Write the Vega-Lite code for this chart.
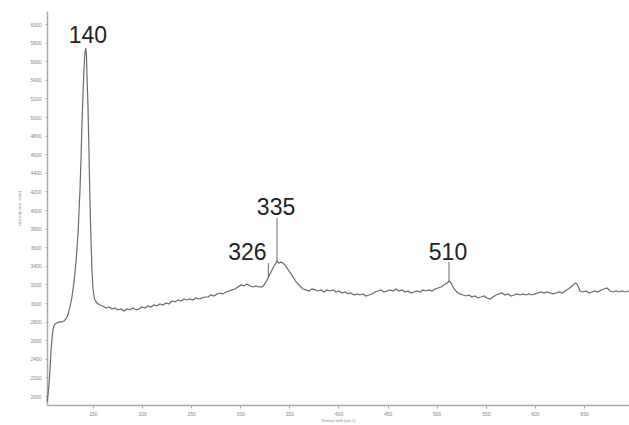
{
  "$schema": "https://vega.github.io/schema/vega-lite/v6.json",
  "width": 582,
  "height": 394,
  "autosize": {"type": "none"},
  "padding": {"left": 47, "top": 11, "right": 0, "bottom": 20},
  "background": "white",
  "config": {
    "view": {"stroke": null},
    "font": "Liberation Sans",
    "axis": {"labelOverlap": false, "labelFontSize": 5, "labelColor": "#888", "tickColor": "#aaa", "domainColor": "#aaa", "domainWidth": 1.5, "grid": false, "titleFontSize": 4, "titleColor": "#888", "titleFontWeight": "normal"},
    "axisX": {"tickSize": 3, "labelPadding": 3, "titlePadding": 2},
    "axisY": {"tickSize": 2, "labelPadding": 4, "titlePadding": 8}
  },
  "datasets": {
    "spectrum": [
      {"shift":103.2,"intensity":1937},{"shift":104.2,"intensity":2012},{"shift":105.2,"intensity":2119},{"shift":106.2,"intensity":2281},{"shift":107.2,"intensity":2474},{"shift":108.3,"intensity":2625},{"shift":109.3,"intensity":2710},{"shift":110.3,"intensity":2754},{"shift":111.3,"intensity":2775},{"shift":113.3,"intensity":2786},{"shift":115.4,"intensity":2797},{"shift":118.4,"intensity":2797},{"shift":120.5,"intensity":2807},{"shift":122.5,"intensity":2829},{"shift":124.5,"intensity":2872},{"shift":126.6,"intensity":2958},{"shift":128.6,"intensity":3065},{"shift":130.7,"intensity":3227},{"shift":132.7,"intensity":3442},{"shift":134.7,"intensity":3732},{"shift":136.8,"intensity":4216},{"shift":137.8,"intensity":4538},{"shift":138.8,"intensity":4914},{"shift":139.8,"intensity":5237},{"shift":140.8,"intensity":5506},{"shift":141.9,"intensity":5699},{"shift":142.6,"intensity":5742},{"shift":143.4,"intensity":5667},{"shift":143.9,"intensity":5452},{"shift":144.9,"intensity":5129},{"shift":145.9,"intensity":4646},{"shift":146.9,"intensity":4108},{"shift":148.0,"intensity":3678},{"shift":149.0,"intensity":3356},{"shift":150.0,"intensity":3162},{"shift":151.0,"intensity":3076},{"shift":152.0,"intensity":3033},{"shift":154.1,"intensity":3001},{"shift":157.1,"intensity":2979},
      {"shift":160.2,"intensity":2969},{"shift":163.2,"intensity":2947},{"shift":166.3,"intensity":2958},{"shift":169.4,"intensity":2936},{"shift":172.4,"intensity":2947},{"shift":175.5,"intensity":2926},{"shift":178.5,"intensity":2936},{"shift":181.6,"intensity":2915},{"shift":184.6,"intensity":2936},{"shift":187.7,"intensity":2926},{"shift":190.7,"intensity":2947},{"shift":193.8,"intensity":2926},{"shift":196.8,"intensity":2936},{"shift":199.9,"intensity":2958},{"shift":203.0,"intensity":2947},{"shift":206.0,"intensity":2969},{"shift":209.1,"intensity":2958},{"shift":212.1,"intensity":2979},{"shift":215.2,"intensity":2969},{"shift":218.2,"intensity":2990},{"shift":221.3,"intensity":2979},{"shift":224.3,"intensity":3001},{"shift":227.4,"intensity":2990},{"shift":230.4,"intensity":3022},{"shift":233.5,"intensity":3012},{"shift":236.6,"intensity":3033},{"shift":239.6,"intensity":3022},{"shift":242.7,"intensity":3044},{"shift":245.7,"intensity":3033},{"shift":248.8,"intensity":3044},{"shift":251.8,"intensity":3033},{"shift":254.9,"intensity":3055},{"shift":257.9,"intensity":3044},{"shift":261.0,"intensity":3055},{"shift":264.0,"intensity":3065},{"shift":267.1,"intensity":3065},{"shift":270.2,"intensity":3087},{"shift":273.2,"intensity":3076},{"shift":276.3,"intensity":3098},{"shift":279.3,"intensity":3108},{"shift":282.4,"intensity":3098},{"shift":285.4,"intensity":3119},{"shift":288.5,"intensity":3130},{"shift":291.5,"intensity":3141},{"shift":294.6,"intensity":3151},{"shift":297.7,"intensity":3173},{"shift":300.7,"intensity":3194},{"shift":303.8,"intensity":3184},{"shift":306.8,"intensity":3205},{"shift":309.9,"intensity":3184},{"shift":312.9,"intensity":3173},{"shift":316.0,"intensity":3184},{"shift":319.0,"intensity":3173},{"shift":322.1,"intensity":3173},{"shift":324.1,"intensity":3194},{"shift":326.2,"intensity":3227},{"shift":328.2,"intensity":3270},{"shift":330.2,"intensity":3313},{"shift":332.3,"intensity":3356},{"shift":334.3,"intensity":3399},{"shift":336.4,"intensity":3431},{"shift":337.4,"intensity":3452},{"shift":339.4,"intensity":3431},{"shift":341.4,"intensity":3442},{"shift":343.5,"intensity":3431},{"shift":345.5,"intensity":3409},{"shift":347.6,"intensity":3377},{"shift":349.6,"intensity":3345},{"shift":351.6,"intensity":3313},{"shift":353.7,"intensity":3280},{"shift":355.7,"intensity":3248},{"shift":357.7,"intensity":3216},{"shift":359.8,"intensity":3194},{"shift":361.8,"intensity":3173},{"shift":363.8,"intensity":3151},{"shift":366.9,"intensity":3141},{"shift":370.0,"intensity":3130},{"shift":373.0,"intensity":3151},{"shift":376.1,"intensity":3141},{"shift":379.1,"intensity":3130},{"shift":382.2,"intensity":3141},{"shift":385.2,"intensity":3119},{"shift":388.3,"intensity":3141},{"shift":391.3,"intensity":3130},{"shift":394.4,"intensity":3141},{"shift":397.5,"intensity":3119},{"shift":400.5,"intensity":3130},{"shift":403.6,"intensity":3108},{"shift":406.6,"intensity":3119},{"shift":409.7,"intensity":3098},{"shift":412.7,"intensity":3108},{"shift":415.8,"intensity":3087},{"shift":418.8,"intensity":3098},{"shift":421.9,"intensity":3087},{"shift":424.9,"intensity":3098},{"shift":428.0,"intensity":3076},{"shift":431.1,"intensity":3087},{"shift":434.1,"intensity":3098},{"shift":437.2,"intensity":3119},{"shift":440.2,"intensity":3130},{"shift":443.3,"intensity":3141},{"shift":446.3,"intensity":3119},{"shift":449.4,"intensity":3130},{"shift":452.4,"intensity":3141},{"shift":455.5,"intensity":3130},{"shift":458.5,"intensity":3151},{"shift":461.6,"intensity":3130},{"shift":464.7,"intensity":3141},{"shift":467.7,"intensity":3119},{"shift":470.8,"intensity":3130},{"shift":473.8,"intensity":3108},{"shift":476.9,"intensity":3119},{"shift":479.9,"intensity":3130},{"shift":483.0,"intensity":3119},{"shift":486.0,"intensity":3141},{"shift":489.1,"intensity":3130},{"shift":492.2,"intensity":3141},{"shift":495.2,"intensity":3130},{"shift":498.3,"intensity":3151},{"shift":501.3,"intensity":3162},{"shift":504.4,"intensity":3173},{"shift":507.4,"intensity":3194},{"shift":510.5,"intensity":3216},{"shift":512.5,"intensity":3237},{"shift":514.6,"intensity":3216},{"shift":516.6,"intensity":3173},{"shift":518.6,"intensity":3141},{"shift":520.7,"intensity":3119},{"shift":523.7,"intensity":3098},{"shift":526.8,"intensity":3087},{"shift":529.8,"intensity":3076},{"shift":532.9,"intensity":3087},{"shift":535.9,"intensity":3065},{"shift":539.0,"intensity":3076},{"shift":542.0,"intensity":3055},{"shift":545.1,"intensity":3065},{"shift":548.2,"intensity":3076},{"shift":551.2,"intensity":3055},{"shift":554.3,"intensity":3044},{"shift":557.3,"intensity":3065},{"shift":560.4,"intensity":3087},{"shift":563.4,"intensity":3098},{"shift":566.5,"intensity":3108},{"shift":569.5,"intensity":3087},{"shift":572.6,"intensity":3098},{"shift":575.7,"intensity":3076},{"shift":578.7,"intensity":3087},{"shift":581.8,"intensity":3098},{"shift":584.8,"intensity":3087},{"shift":587.9,"intensity":3098},{"shift":590.9,"intensity":3087},{"shift":594.0,"intensity":3098},{"shift":597.0,"intensity":3087},{"shift":600.1,"intensity":3098},{"shift":603.1,"intensity":3108},{"shift":606.2,"intensity":3119},{"shift":609.3,"intensity":3108},{"shift":612.3,"intensity":3119},{"shift":615.4,"intensity":3108},{"shift":618.4,"intensity":3098},{"shift":621.5,"intensity":3108},{"shift":624.5,"intensity":3119},{"shift":627.6,"intensity":3108},{"shift":630.6,"intensity":3130},{"shift":633.7,"intensity":3151},{"shift":636.7,"intensity":3173},{"shift":639.8,"intensity":3205},{"shift":641.8,"intensity":3216},{"shift":643.9,"intensity":3184},{"shift":645.9,"intensity":3130},{"shift":649.0,"intensity":3119},{"shift":652.0,"intensity":3130},{"shift":655.1,"intensity":3108},{"shift":658.1,"intensity":3119},{"shift":661.2,"intensity":3130},{"shift":664.2,"intensity":3119},{"shift":667.3,"intensity":3141},{"shift":670.4,"intensity":3151},{"shift":673.4,"intensity":3162},{"shift":676.5,"intensity":3130},{"shift":679.5,"intensity":3119},{"shift":682.6,"intensity":3130},{"shift":685.6,"intensity":3119},{"shift":688.7,"intensity":3130},{"shift":691.7,"intensity":3119},{"shift":695.8,"intensity":3130}
    ],
    "markers": [
      {"shift":337.4,"top":3914,"bottom":3442},
      {"shift":328.6,"top":3431,"bottom":3270},
      {"shift":512.5,"top":3442,"bottom":3237}
    ],
    "labels": [
      {"shift":144.9,"intensity":5796,"label":"140"},
      {"shift":336.4,"intensity":3947,"label":"335"},
      {"shift":307.3,"intensity":3463,"label":"326"},
      {"shift":511.5,"intensity":3463,"label":"510"}
    ]
  },
  "layer": [
    {
      "data": {"name": "spectrum"},
      "mark": {"type": "line", "color": "#6a6a6a", "strokeWidth": 1.2},
      "encoding": {
        "x": {"field": "shift", "type": "quantitative",
          "scale": {"domain": [103.2, 695.8], "nice": false, "zero": false},
          "axis": {"values": [150,200,250,300,350,400,450,500,550,600,650], "tickCount": 30, "format": "d", "title": "Raman shift (cm-1)"}},
        "y": {"field": "intensity", "type": "quantitative",
          "scale": {"domain": [1904, 6140], "nice": false, "zero": false},
          "axis": {"values": [2000,2200,2400,2600,2800,3000,3200,3400,3600,3800,4000,4200,4400,4600,4800,5000,5200,5400,5600,5800,6000], "tickCount": 30, "format": "d", "title": "Intensity (arb. units)"}}
      }
    },
    {
      "data": {"name": "markers"},
      "mark": {"type": "rule", "color": "#6a6a6a", "strokeWidth": 1},
      "encoding": {
        "x": {"field": "shift", "type": "quantitative"},
        "y": {"field": "top", "type": "quantitative"},
        "y2": {"field": "bottom"}
      }
    },
    {
      "data": {"name": "labels"},
      "mark": {"type": "text", "fontSize": 23, "color": "#222", "align": "center", "baseline": "alphabetic", "font": "Liberation Sans"},
      "encoding": {
        "x": {"field": "shift", "type": "quantitative"},
        "y": {"field": "intensity", "type": "quantitative"},
        "text": {"field": "label"}
      }
    },
    {
      "mark": {"type": "rule", "color": "#666", "strokeWidth": 1.5},
      "encoding": {
        "x": {"datum": 66.5},
        "y": {"datum": 6140},
        "y2": {"datum": 1689}
      }
    },
    {
      "mark": {"type": "rule", "color": "#555", "strokeWidth": 2},
      "encoding": {
        "y": {"datum": 6140},
        "x": {"datum": 66.5},
        "x2": {"datum": 695.8}
      }
    }
  ]
}
